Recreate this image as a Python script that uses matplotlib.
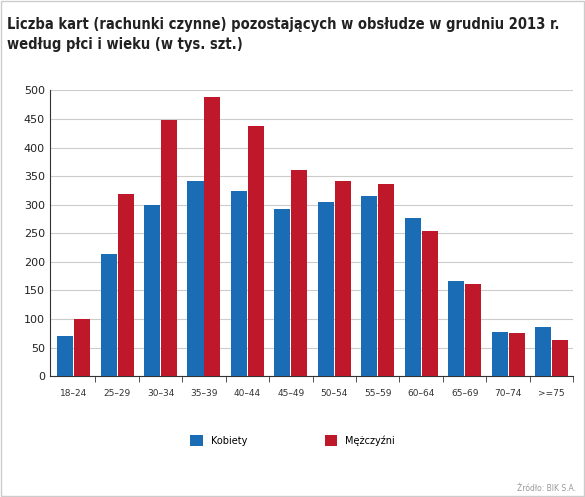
import matplotlib
matplotlib.use("Agg")
import matplotlib.pyplot as plt
import numpy as np

categories = ["18–24","25–29","30–34","35–39","40–44","45–49","50–54","55–59","60–64","65–69","70–74",">=75"]
kobiety = [70, 214, 300, 342, 324, 293, 304, 315, 276, 167, 78, 86]
mezczyzni = [100, 318, 449, 489, 438, 361, 341, 336, 254, 162, 76, 63]
yticks = [0, 50, 100, 150, 200, 250, 300, 350, 400, 450, 500]

blue = "#1a6db5"
red = "#c0182b"

fig = plt.figure(figsize=(5.85, 4.97), dpi=100)
ax = fig.add_axes([0.085, 0.243, 0.895, 0.575])
x = np.arange(len(categories))
w = 0.37
ax.bar(x - w/2 - 0.01, kobiety, w, color=blue, label="Kobiety", zorder=3)
ax.bar(x + w/2 + 0.01, mezczyzni, w, color=red, label="Mężczyźni", zorder=3)
ax.set_xlim(-0.55, len(categories) - 0.5)
ax.set_ylim(0, 500)
ax.set_yticks(yticks)
ax.yaxis.grid(True, color="#cccccc", lw=0.8, zorder=0)
ax.set_xticks(x)
ax.set_xticklabels(categories, fontsize=6.5, color="#333333")
ax.set_xticks(np.arange(len(categories)) + 0.5, minor=True)
ax.tick_params(axis="x", which="major", length=0, pad=9)
ax.tick_params(axis="x", which="minor", length=4, color="#333333")
ax.tick_params(axis="y", length=0, labelsize=8, colors="#222222")
for s in ["top", "right"]:
    ax.spines[s].set_visible(False)
ax.spines["left"].set_color("#333333")
ax.spines["bottom"].set_color("#333333")

fig.text(0.012, 0.965, "Liczba kart (rachunki czynne) pozostających w obsłudze w grudniu 2013 r.\nwedług płci i wieku (w tys. szt.)",
         fontsize=10.5, va="top", ha="left", color="#222222", linespacing=1.4, fontweight="semibold",
         fontstretch="condensed")
fig.legend(loc="lower center", bbox_to_anchor=(0.5, 0.085), ncol=2, frameon=False,
           fontsize=7, columnspacing=8, handlelength=1.3, handleheight=1.3)
fig.text(0.985, 0.012, "Źródło: BIK S.A.", fontsize=5.5, ha="right", color="#999999")
fig.patches.append(plt.Rectangle((0.002, 0.002), 0.996, 0.996, transform=fig.transFigure,
                                 fill=False, ec="#cccccc", lw=1))
fig.savefig("out.png", dpi=100)
